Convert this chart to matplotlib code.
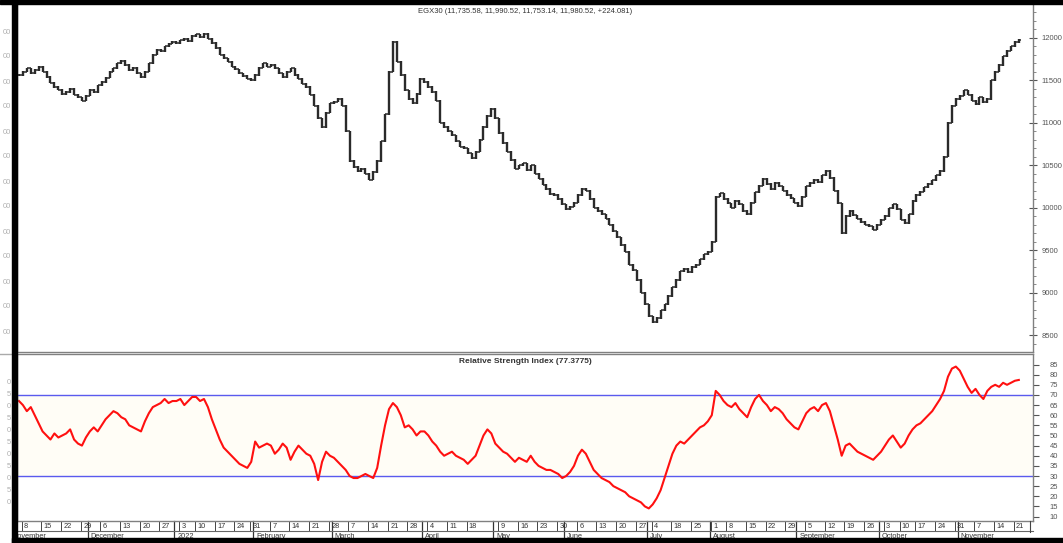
import matplotlib
matplotlib.use('Agg')
import matplotlib.pyplot as plt
import matplotlib.transforms as mtransforms
from matplotlib.patches import Rectangle
import numpy as np
import pandas as pd

plt.rcParams['font.family'] = ['Liberation Sans', 'DejaVu Sans']

price_title = 'EGX30 (11,735.58, 11,990.52, 11,753.14, 11,980.52, +224.081)'
rsi_title = 'Relative Strength Index (77.3775)'

# exchange closed on these days (Sun-Thu week)
holidays = ['2022-01-06', '2022-01-27', '2022-04-24', '2022-04-25',
            '2022-05-01', '2022-05-02', '2022-05-03', '2022-05-04', '2022-05-05',
            '2022-06-30', '2022-07-10', '2022-07-11', '2022-07-12', '2022-07-13',
            '2022-07-14', '2022-08-04', '2022-10-06', '2022-10-13']

# daily close, one row per month (Nov 2021 .. Nov 2022)
close = [
    11560, 11600, 11640, 11580, 11620, 11660, 11600, 11540, 11470, 11420, 11390, 11340, 11360, 11400, 11330, 11300, 11260, 11320,
    11390, 11360, 11440, 11480, 11530, 11600, 11640, 11700, 11730, 11680, 11620, 11650, 11580, 11540, 11600, 11700, 11800, 11860, 11840, 11900, 11930, 11950,
    11940, 11970, 11990, 11960, 12020, 12040, 12010, 12050, 11990, 11940, 11880, 11800, 11760, 11720, 11660, 11630, 11580, 11550, 11520, 11500,
    11560, 11650, 11700, 11660, 11680, 11640, 11580, 11540, 11600, 11640, 11560, 11520, 11460, 11420, 11330, 11200, 11050, 10950, 11120, 11230,
    11250, 11280, 11200, 10900, 10550, 10480, 10430, 10460, 10400, 10330, 10420, 10550, 10780, 11100, 11600, 11950, 11720, 11560, 11380, 11280, 11230, 11340, 11520,
    11480, 11420, 11360, 11260, 11000, 10950, 10900, 10850, 10780, 10720, 10700, 10640, 10580, 10660, 10800, 10950, 11080, 11160,
    11050, 10880, 10760, 10660, 10560, 10460, 10500, 10520, 10440, 10500, 10400, 10340, 10270, 10220, 10160, 10150, 10100, 10040,
    9980, 10010, 10060, 10150, 10220, 10200, 10100, 10000, 9960, 9920, 9870, 9800, 9720, 9650, 9560, 9480, 9330, 9260, 9150, 9000, 8860,
    8720, 8650, 8700, 8790, 8860, 8960, 9060, 9150, 9250, 9280, 9240, 9300, 9330, 9390, 9450, 9480,
    9600, 10130, 10170, 10100, 10050, 10000, 10080, 10040, 9960, 9920, 10060, 10180, 10260, 10340, 10280, 10220, 10290, 10250, 10200, 10150, 10110, 10060,
    10020, 10130, 10250, 10290, 10330, 10300, 10380, 10430, 10350, 10200, 10050, 9700, 9900, 9960, 9910, 9870, 9830, 9800, 9780, 9740, 9800,
    9860, 9900, 9990, 10040, 9980, 9860, 9820, 9920, 10080, 10150, 10190, 10240, 10280, 10320, 10380, 10430, 10600, 11000, 11200, 11280,
    11320, 11380, 11330, 11260, 11220, 11300, 11240, 11280, 11500, 11600, 11680, 11780, 11850, 11900, 11950, 11980,
]

rsi = [
    67, 65, 62, 64, 60, 56, 52, 50, 48, 51, 49, 50, 51, 53, 48, 46, 45, 49,
    52, 54, 52, 55, 58, 60, 62, 61, 59, 58, 55, 54, 53, 52, 57, 61, 64, 65, 66, 68, 66, 67,
    67, 68, 65, 67, 69, 69, 67, 68, 64, 58, 53, 48, 44, 42, 40, 38, 36, 35, 34, 37,
    47, 44, 45, 46, 45, 41, 43, 46, 44, 38, 42, 45, 43, 41, 40, 36, 28, 37, 42, 40,
    39, 37, 35, 33, 30, 29, 29, 30, 31, 30, 29, 34, 45, 55, 63, 66, 64, 60, 54, 55, 53, 50, 52,
    52, 50, 47, 45, 42, 40, 41, 42, 40, 39, 38, 36, 38, 40, 45, 50, 53, 51,
    46, 44, 42, 41, 39, 37, 39, 38, 37, 40, 37, 35, 34, 33, 33, 32, 31, 29,
    30, 32, 35, 40, 43, 41, 37, 33, 31, 29, 28, 27, 25, 24, 23, 22, 20, 19, 18, 17, 15,
    14, 16, 19, 23, 29, 35, 41, 45, 47, 46, 48, 50, 52, 54, 55, 57,
    60, 72, 70, 67, 65, 64, 66, 63, 61, 59, 64, 68, 70, 67, 65, 62, 64, 63, 61, 58, 56, 54,
    53, 57, 61, 63, 64, 62, 65, 66, 62, 55, 48, 40, 45, 46, 44, 42, 41, 40, 39, 38, 40,
    42, 45, 48, 50, 47, 44, 46, 50, 53, 55, 56, 58, 60, 62, 65, 68, 72, 79, 83, 84,
    82, 78, 74, 71, 73, 70, 68, 72, 74, 75, 74, 76, 75, 76, 77, 77.4,
]

price_ticks = [8500, 9000, 9500, 10000, 10500, 11000, 11500, 12000]
rsi_ticks = list(range(10, 90, 5))
rsi_levels = [30, 70]

days = pd.bdate_range('2021-11-07', '2022-11-22', freq='C',
                      weekmask='Sun Mon Tue Wed Thu', holidays=holidays)
n = min(len(days), len(close), len(rsi))
days = days[:n]
close = np.array(close[:n], dtype=float)
rsi = np.array(rsi[:n], dtype=float)
x = np.arange(n)
opens = np.r_[close[0], close[:-1]]

W, H = 1063, 543
fig = plt.figure(figsize=(W / 100, H / 100), dpi=100)
fig.patch.set_facecolor('white')

L, R = 17 / W, 1033 / W
ax = fig.add_axes([L, 1 - 352 / H, R - L, (352 - 3) / H])
ax2 = fig.add_axes([L, 1 - 521 / H, R - L, (521 - 354) / H])

gray = '#808080'
for a in (ax, ax2):
    a.set_xlim(-0.5, n + 2.6)
    a.set_xticks([])
    for s in a.spines.values():
        s.set_color(gray)
        s.set_linewidth(1)
    a.yaxis.tick_right()

# price bars (open = previous close)
bar_col = '#2a2a2a'
ax.vlines(x, np.minimum(opens, close) - 8, np.maximum(opens, close) + 8, color=bar_col, lw=1.7)
ax.hlines(opens, x - 0.5, x, color=bar_col, lw=1.1)
ax.hlines(close, x, x + 0.5, color=bar_col, lw=1.1)
ax.set_ylim(8300, 12410)
ax.set_yticks(price_ticks)
ax.set_yticklabels([str(v) for v in price_ticks])
ax.set_yticks(np.arange(8400, 12400, 100), minor=True)
ax.tick_params(axis='y', which='major', direction='inout', length=6, width=0.8,
               colors='#555555', labelsize=5.5, pad=3)
ax.tick_params(axis='y', which='minor', direction='out', length=2.5, width=0.6, colors='#777777')
ax.text(0.5, 0.985, price_title, transform=ax.transAxes, ha='center', va='top',
        fontsize=5.5, color='#333333')

# rsi panel
ax2.axhspan(rsi_levels[0], rsi_levels[1], color='#fffdf6', zorder=0)
for lv in rsi_levels:
    ax2.axhline(lv, color='#5a5aee', lw=1)
ax2.plot(x, rsi, color='#ff1010', lw=1.5)
ax2.set_ylim(7.8, 90.2)
ax2.set_yticks(rsi_ticks)
ax2.set_yticklabels([str(v) for v in rsi_ticks])
ax2.tick_params(axis='y', which='major', direction='out', length=4, width=0.8,
                colors='#555555', labelsize=5.5, pad=8)
ax2.text(0.5, 0.975, rsi_title, transform=ax2.transAxes, ha='center', va='top',
         fontsize=6, fontweight='bold', color='#333333')

# date axis: weekly ticks on Mondays, month rows below
trans = mtransforms.blended_transform_factory(ax2.transData, ax2.transAxes)
month_names = ['2022', 'February', 'March', 'April', 'May', 'June', 'July', 'August',
               'September', 'October', 'November', 'December']
px = 1 / 167
for i, d in enumerate(days):
    if d.weekday() == 0:
        ax2.plot([i - 0.3, i - 0.3], [0, -9 * px], transform=trans, clip_on=False,
                 color='#444444', lw=0.7)
        ax2.text(i + 0.3, -5 * px, str(d.day), transform=trans, ha='left', va='center',
                 fontsize=5.3, color='#333333')
    if i > 0 and d.month != days[i - 1].month:
        ax2.plot([i - 0.5, i - 0.5], [0, -20 * px], transform=trans, clip_on=False,
                 color='#333333', lw=0.9)
        ax2.text(i + 0.2, -16 * px, month_names[d.month - 1], transform=trans,
                 ha='left', va='center', fontsize=5.3, color='#333333')
ax2.text(-1.6, -16 * px, 'November', transform=trans, ha='left', va='center',
         fontsize=5.3, color='#333333', clip_on=False)
fig.add_artist(plt.Line2D([L, R], [1 - 531 / H, 1 - 531 / H], color='#666666', lw=0.8))
fig.add_artist(plt.Line2D([1030 / W, 1030 / W], [1 - 521 / H, 1 - 532 / H], color='#444444', lw=0.8))

# cropped labels of a neighbouring window on the far left
for yy in range(32, 340, 25):
    fig.text(11 / W, 1 - yy / H, '00', ha='right', va='center',
             fontsize=5.5, color='#b0b0b0')
for k, yy in enumerate(range(382, 512, 12)):
    fig.text(11 / W, 1 - yy / H, str(80 - 5 * k)[-1], ha='right', va='center',
             fontsize=5.5, color='#b0b0b0')
fig.add_artist(plt.Line2D([0, 12 / W], [1 - 354 / H, 1 - 354 / H], color='#aaaaaa', lw=1))

# screenshot borders
fig.add_artist(Rectangle((12 / W, 0), 5 / W, 1, transform=fig.transFigure,
                         color='black', zorder=10))
fig.add_artist(Rectangle((0, 1 - 4 / H), 1, 4 / H, transform=fig.transFigure,
                         color='black', zorder=10))
fig.add_artist(Rectangle((12 / W, 0), 1, 5 / H, transform=fig.transFigure,
                         color='black', zorder=10))

fig.savefig('out.png', dpi=100)
